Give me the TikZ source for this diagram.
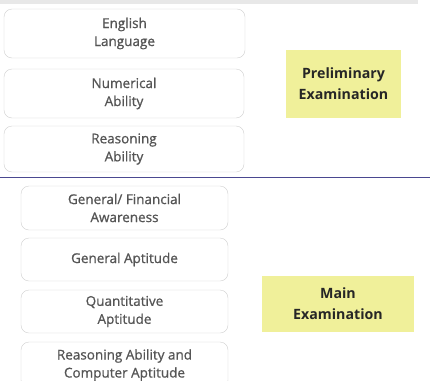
\documentclass[tikz,border=0pt]{standalone}
\usepackage{fontspec}
\setmainfont{Open Sans}
\newfontfamily\subjfont{Open Sans}[FakeBold=0.9]
\definecolor{boxline}{HTML}{CFCFCF}
\definecolor{boxtext}{HTML}{555555}
\definecolor{examfill}{HTML}{F0F09A}
\definecolor{barfill}{HTML}{E8E8E8}
\definecolor{rulecol}{HTML}{4A4890}
\begin{document}
\begin{tikzpicture}[x=1pt,y=-1pt,
  subj/.style={draw=boxline, rounded corners=8pt, fill=white, text=boxtext,
    align=center, font=\subjfont\fontsize{13.5}{18}\selectfont, inner sep=0pt},
  exam/.style={fill=examfill, text=black!85, align=center,
    font=\bfseries\fontsize{14.2}{21}\selectfont, inner sep=0pt}]
\useasboundingbox (0,0) rectangle (430,380);
\clip (0,0) rectangle (430,380);
\fill[barfill] (0,0) rectangle (418,4);
% preliminary
\node[subj, minimum width=241pt, minimum height=49pt] (eng) at (124.5,33.5){English\\Language};
\node[subj, minimum width=240pt, minimum height=49pt] (num) at (124,93.5){Numerical\\Ability};
\node[subj, minimum width=240pt, minimum height=46pt] (rea) at (124,149){Reasoning\\Ability};
\node[exam, minimum width=115pt, minimum height=68pt] (pre) at (343.5,84){Preliminary\\Examination};
\draw[rulecol, line width=0.9pt] (0,177) -- (430,177);
% main
\node[subj, minimum width=207pt, minimum height=44pt] (gfa) at (124.5,208){General/ Financial\\Awareness};
\node[subj, minimum width=207pt, minimum height=43pt] (gap) at (124.5,259.5){General Aptitude};
\node[subj, minimum width=207pt, minimum height=43pt] (qap) at (124.5,311.5){Quantitative\\Aptitude};
\node[subj, minimum width=207pt, minimum height=46pt] (rca) at (124.5,365){Reasoning Ability and\\Computer Aptitude};
\node[exam, minimum width=152pt, minimum height=56pt] (mai) at (338,304){Main\\Examination};
\end{tikzpicture}
\end{document}
